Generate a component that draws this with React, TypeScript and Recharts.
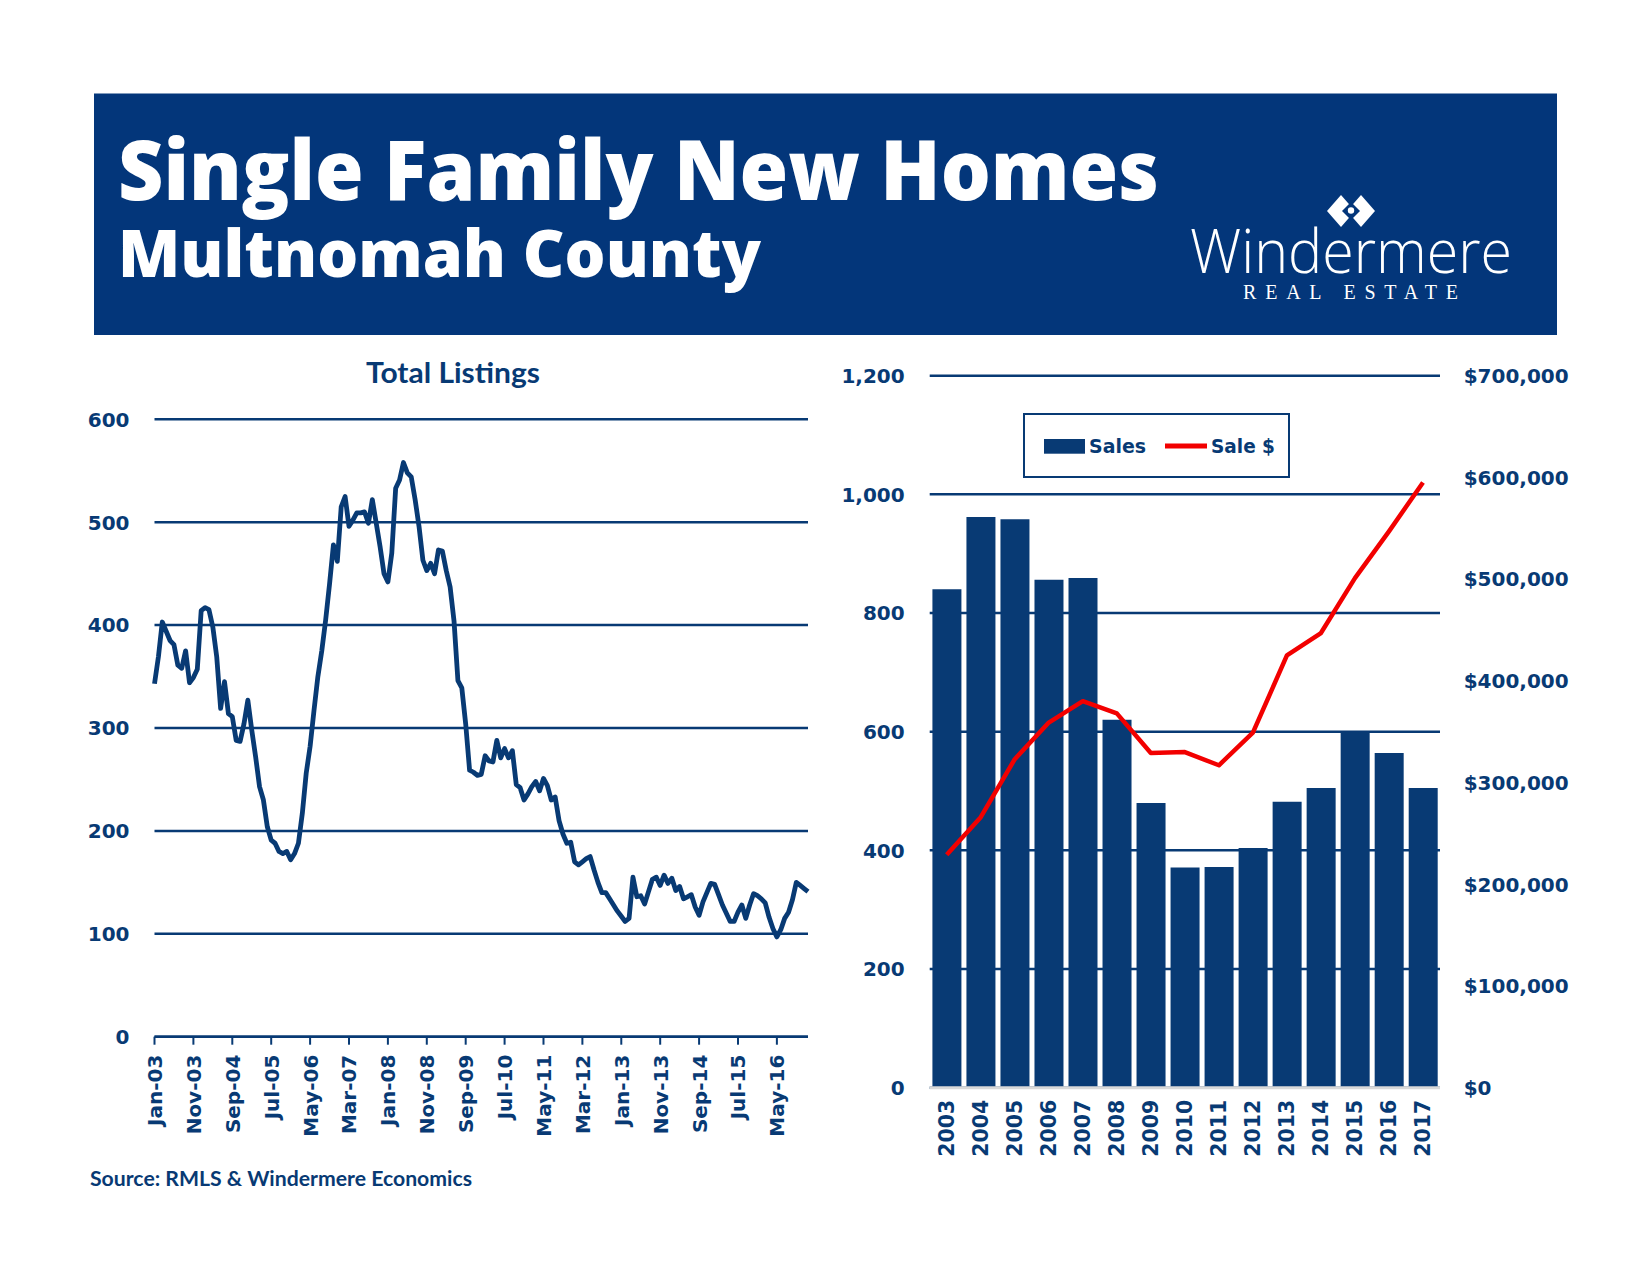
import React from 'react';
import { LineChart, Line, ComposedChart, Bar, XAxis, YAxis, CartesianGrid, Legend } from 'recharts';

const NAVY = '#083A74';
const BANNER = '#03367A';
const RED = '#F20000';
const TICK_FONT = '"DejaVu Sans", Verdana, sans-serif';
const HEAD_FONT = 'Lato, "Open Sans", sans-serif';
const TITLE_FONT = '"Open Sans", Lato, sans-serif';

// ---------- Total Listings (monthly, Jan-03 .. Jan-17) ----------
const MONTH_NAMES = ['Jan', 'Feb', 'Mar', 'Apr', 'May', 'Jun', 'Jul', 'Aug', 'Sep', 'Oct', 'Nov', 'Dec'];
const listingValues = [
  343, 369, 403, 394, 385, 381, 361, 358, 375, 344, 349, 357,
  414, 417, 415, 398, 369, 319, 345, 314, 311, 288, 287, 304,
  327, 298, 272, 243, 230, 204, 191, 188, 180, 178, 180, 172,
  178, 188, 217, 256, 282, 317, 350, 375, 405, 440, 478, 462,
  515, 525, 496, 502, 509, 509, 510, 499, 522, 499, 476, 450,
  442, 470, 533, 541, 558, 548, 544, 522, 496, 463, 453, 460,
  450, 473, 472, 453, 437, 404, 346, 339, 304, 259, 257, 254,
  255, 273, 268, 267, 288, 271, 280, 271, 278, 245, 242, 230,
  236, 243, 248, 239, 251, 244, 230, 233, 210, 197, 188, 189,
  170, 167, 170, 173, 175, 162, 150, 140, 140, 134, 128, 122,
  117, 112, 115, 155, 136, 137, 129, 141, 153, 155, 147, 157,
  149, 154, 142, 146, 134, 136, 138, 126, 118, 131, 140, 149,
  148, 138, 128, 120, 112, 112, 121, 128, 115, 128, 139, 137,
  134, 130, 116, 105, 97, 104, 115, 121, 133, 150, 147, 144,
  141,
];
const listingMonths = listingValues.map(
  (_, i) => `${MONTH_NAMES[i % 12]}-${String(3 + Math.floor(i / 12)).padStart(2, '0')}`
);
const listingTicks = [0, 100, 200, 300, 400, 500, 600];
const listingData = listingMonths.map((m, i) => ({ month: m, listings: listingValues[i] }));

// ---------- Sales & Sale $ (annual) ----------
const years = ['2003', '2004', '2005', '2006', '2007', '2008', '2009', '2010', '2011', '2012', '2013', '2014', '2015', '2016', '2017'];
const salesCounts = [840, 962, 958, 856, 859, 620, 480, 371, 372, 404, 482, 505, 600, 564, 505];
const salePrices = [229000, 266000, 323000, 359000, 380000, 368000, 329000, 330000, 317000, 349000, 425000, 447000, 501000, 547000, 595000];
const salesTicks = [0, 200, 400, 600, 800, 1000, 1200];
const priceTicks = [0, 100000, 200000, 300000, 400000, 500000, 600000, 700000];
const salesData = years.map((y, i) => ({ year: y, sales: salesCounts[i], price: salePrices[i] }));

const fmtNum = (v: number) => v.toLocaleString('en-US');
const fmtUsd = (v: number) => '$' + v.toLocaleString('en-US');

const tickText = {
  fill: NAVY,
  fontFamily: TICK_FONT,
  fontWeight: 700,
  fontSize: 20,
} as const;

const LeftYTick = (props: any) => {
  const { x, y, payload } = props;
  return (
    <text x={x - 25} y={y + 7.3} textAnchor="end" {...tickText}>
      {fmtNum(payload.value)}
    </text>
  );
};

const RightYTick = (props: any) => {
  const { x, y, payload } = props;
  return (
    <text x={x + 23.7} y={y + 7.3} textAnchor="start" {...tickText}>
      {fmtUsd(payload.value)}
    </text>
  );
};

const MonthTick = (props: any) => {
  const { x, y, payload } = props;
  return (
    <text transform={`translate(${x + 7.5},${y + 10}) rotate(-90)`} textAnchor="end" {...tickText}>
      {payload.value}
    </text>
  );
};

const YearTick = (props: any) => {
  const { x, y, payload } = props;
  return (
    <text transform={`translate(${x + 7.5},${y + 12}) rotate(-90)`} textAnchor="end" {...tickText} fontSize={20.5}>
      {payload.value}
    </text>
  );
};

const SalesLegend = () => (
  <svg width={268} height={66} style={{ display: 'block' }}>
    <rect x={1} y={1} width={265} height={63} fill="#fff" stroke={NAVY} strokeWidth={2} />
    <rect x={21} y={26} width={41} height={14.7} fill={NAVY} />
    <text x={66} y={40} fill={NAVY} fontFamily={TICK_FONT} fontWeight={700} fontSize={19} textLength={57} lengthAdjust="spacingAndGlyphs">
      Sales
    </text>
    <line x1={142} x2={184} y1={33} y2={33} stroke={RED} strokeWidth={5} />
    <text x={188} y={40} fill={NAVY} fontFamily={TICK_FONT} fontWeight={700} fontSize={19} textLength={64} lengthAdjust="spacingAndGlyphs">
      Sale $
    </text>
  </svg>
);

const Header = () => (
  <svg width={1650} height={1275} style={{ position: 'absolute', left: 0, top: 0 }}>
    <rect x={94} y={93.5} width={1463} height={241.5} fill={BANNER} />
    <text x={118} y={200} fill="#fff" fontFamily={TITLE_FONT} fontWeight={800} fontSize={84} textLength={1041} lengthAdjust="spacingAndGlyphs">
      Single Family New Homes
    </text>
    <text x={118} y={276.7} fill="#fff" fontFamily={TITLE_FONT} fontWeight={800} fontSize={65} textLength={643} lengthAdjust="spacingAndGlyphs">
      Multnomah County
    </text>
    {/* logo mark */}
    <polygon points="1327,211 1341,195 1355,211 1341,227" fill="#fff" />
    <polygon points="1347,211 1361,195 1375,211 1361,227" fill="#fff" />
    <polygon points="1351,202 1360,211 1351,220 1342,211" fill={BANNER} />
    <circle cx={1351} cy={210.5} r={3.2} fill="#fff" />
    <text x={1190} y={272.7} fill="#fff" fontFamily='"Open Sans", "DejaVu Sans", sans-serif' fontWeight={300} fontSize={60} textLength={322} lengthAdjust="spacingAndGlyphs">
      Windermere
    </text>
    <text x={1243} y={299.3} fill="#fff" fontFamily='"Liberation Serif", "DejaVu Serif", serif' fontSize={20} letterSpacing={5} textLength={220} lengthAdjust="spacing">
      REAL ESTATE
    </text>
    <text x={366} y={382.7} fill={NAVY} fontFamily={HEAD_FONT} fontWeight={700} fontSize={28} textLength={174} lengthAdjust="spacingAndGlyphs">
      Total Listings
    </text>
    <text x={90} y={1186} fill={NAVY} fontFamily={HEAD_FONT} fontWeight={700} fontSize={20} textLength={382} lengthAdjust="spacingAndGlyphs">
      Source: RMLS &amp; Windermere Economics
    </text>
  </svg>
);

export default function App() {
  return (
    <div style={{ position: 'absolute', left: 0, top: 0, width: 1650, height: 1275, background: '#fff', overflow: 'hidden' }}>
      <Header />
      <div style={{ position: 'absolute', left: 0, top: 340 }}>
        <LineChart width={830} height={800} data={listingData} margin={{ top: 79.3, right: 22, bottom: 13.3, left: 84.5 }}>
          <CartesianGrid vertical={false} stroke={NAVY} strokeWidth={2.5} />
          <XAxis
            dataKey="month"
            interval={9}
            height={90}
            tickSize={8}
            tickMargin={0}
            axisLine={{ stroke: NAVY, strokeWidth: 2.5 }}
            tickLine={{ stroke: NAVY, strokeWidth: 2 }}
            tick={<MonthTick />}
          />
          <YAxis
            width={70}
            domain={[0, 600]}
            ticks={listingTicks}
            interval={0}
            axisLine={false}
            tickLine={false}
            tickSize={0}
            tickMargin={0}
            tick={<LeftYTick />}
          />
          <Line type="linear" dataKey="listings" stroke={NAVY} strokeWidth={4.8} dot={false} isAnimationActive={false} strokeLinejoin="round" />
        </LineChart>
      </div>
      <div style={{ position: 'absolute', left: 820, top: 340 }}>
        <ComposedChart width={800} height={850} data={salesData} barCategoryGap="8%" margin={{ top: 35.7, right: 70, bottom: 12.3, left: 39.7 }}>
          <CartesianGrid vertical={false} yAxisId="left" stroke={NAVY} strokeWidth={2.5} />
          <XAxis
            dataKey="year"
            interval={0}
            height={90}
            tickSize={0}
            tickMargin={0}
            axisLine={{ stroke: '#D9D9D9', strokeWidth: 3 }}
            tickLine={false}
            tick={<YearTick />}
          />
          <YAxis
            yAxisId="left"
            orientation="left"
            width={70}
            domain={[0, 1200]}
            ticks={salesTicks}
            interval={0}
            axisLine={false}
            tickLine={false}
            tickSize={0}
            tickMargin={0}
            tick={<LeftYTick />}
          />
          <YAxis
            yAxisId="right"
            orientation="right"
            width={110}
            domain={[0, 700000]}
            ticks={priceTicks}
            interval={0}
            axisLine={false}
            tickLine={false}
            tickSize={0}
            tickMargin={0}
            tick={<RightYTick />}
          />
          <Legend
            layout="horizontal"
            verticalAlign="middle"
            align="center"
            content={<SalesLegend />}
            wrapperStyle={{ left: 202.5, top: 73.3, width: 268, height: 66 }}
          />
          <Bar yAxisId="left" dataKey="sales" name="Sales" fill={NAVY} isAnimationActive={false} />
          <Line yAxisId="right" type="linear" dataKey="price" name="Sale $" stroke={RED} strokeWidth={4.5} dot={false} isAnimationActive={false} strokeLinejoin="round" />
        </ComposedChart>
      </div>
    </div>
  );
}
